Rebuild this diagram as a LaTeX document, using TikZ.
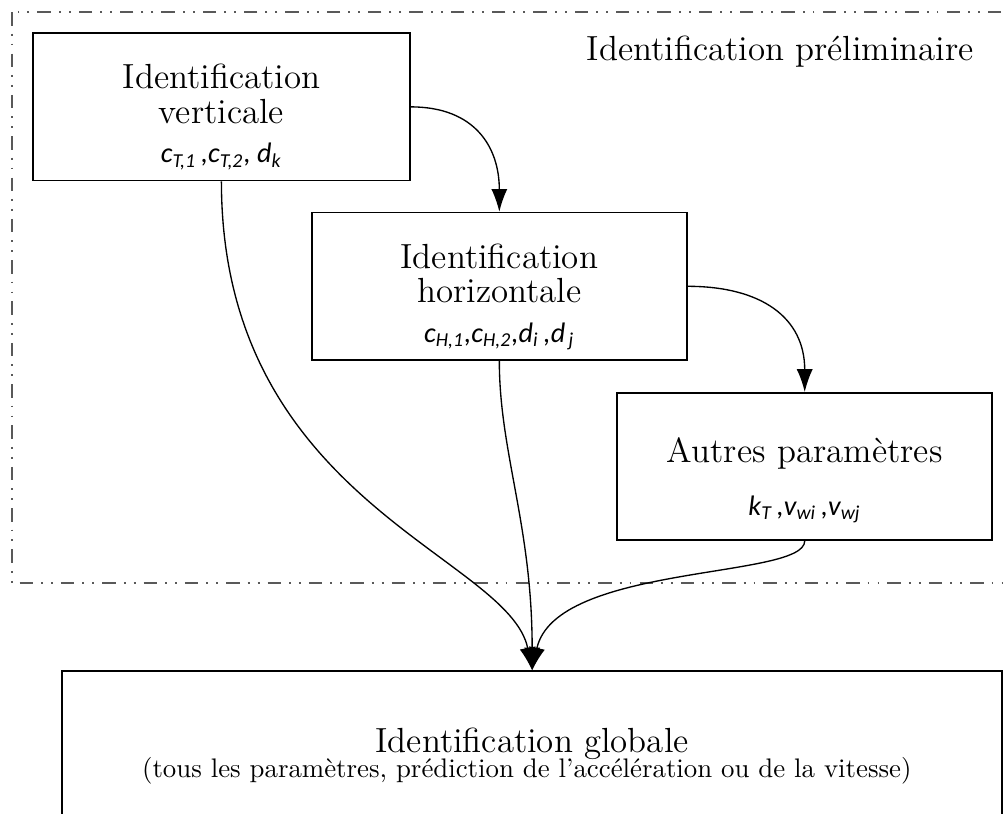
\documentclass[tikz,border=0pt]{standalone}
\usepackage{fontspec}
\usepackage{tikz}
\usetikzlibrary{arrows.meta, positioning}
\newfontfamily\parfont{Carlito}
\newcommand{\params}[1]{{\fontsize{10.5}{12}\parfont\itshape #1}}

\begin{document}
\begin{tikzpicture}[>={Latex[length=8.5pt,width=6pt]},
    box/.style={draw, line width=0.6pt, minimum width=4.91cm, minimum height=1.93cm, inner sep=0pt},
    titre/.style={font=\fontsize{13}{12.7}\selectfont, align=center},
    flow/.style={->, line width=0.5pt}]
    \useasboundingbox (0,0) rectangle (13.15,-10.66);

    % Identification preliminaire
    \draw[black!65, line width=0.8pt, dash pattern=on 5pt off 3pt on 0.7pt off 3pt on 0.7pt off 3pt]
        (0.16,-0.16) rectangle (13.5,-7.64);
    \node[titre, anchor=base] (prelim) at (10.22,-0.79) {Identification préliminaire};

    % Verticale
    \node[box, minimum width=4.94cm] (vert) at (2.90,-1.40) {};
    \node[titre] (vertT) at ([yshift=0.17cm]vert.center) {Identification\\verticale};
    \node[anchor=base] (vertP) at ([yshift=-0.73cm]vert.center)
        {\params{c\textsubscript{T,1}\,,c\textsubscript{T,2}, d\textsubscript{k}}};

    % Horizontale
    \node[box] (horiz) at (6.54,-3.75) {};
    \node[titre] (horizT) at ([yshift=0.17cm]horiz.center) {Identification\\horizontale};
    \node[anchor=base] (horizP) at ([yshift=-0.73cm]horiz.center)
        {\params{c\textsubscript{H,1},c\textsubscript{H,2},d\textsubscript{i}\,,d\textsubscript{\,j}}};

    % Autres
    \node[box] (autres) at (10.54,-6.11) {};
    \node[titre, anchor=base] (autresT) at ([yshift=0.05cm]autres.center) {Autres paramètres};
    \node[anchor=base] (autresP) at ([yshift=-0.64cm]autres.center)
        {\params{k\textsubscript{T}\,,v\textsubscript{wi}\,,v\textsubscript{wj}}};

    % Globale
    \node[box, minimum width=12.31cm, minimum height=3cm, anchor=north] (glob) at (6.97,-8.78) {};
    \node[titre, anchor=base] (globT) at (6.97,-9.86) {Identification globale};
    \node[anchor=base] (globS) at (6.90,-10.19)
        {(tous les paramètres, prédiction de l'accélération ou de la vitesse)};

    % Fleches
    \draw[flow] (vert) to[out=0, in=90, looseness=1.2] (horiz);
    \draw[flow] (horiz) to[out=0, in=90, looseness=1.2] (autres);
    \draw[flow] (vert.south) .. controls +(0,-4.2) and +(-0.3,1.5) .. (glob.north);
    \draw[flow] (horiz.south) .. controls +(0,-1.2) and +(0,1.9) .. (glob.north);
    \draw[flow] (autres.south) .. controls +(0,-0.5) and +(0.3,1.4) .. (glob.north);
\end{tikzpicture}
\end{document}
